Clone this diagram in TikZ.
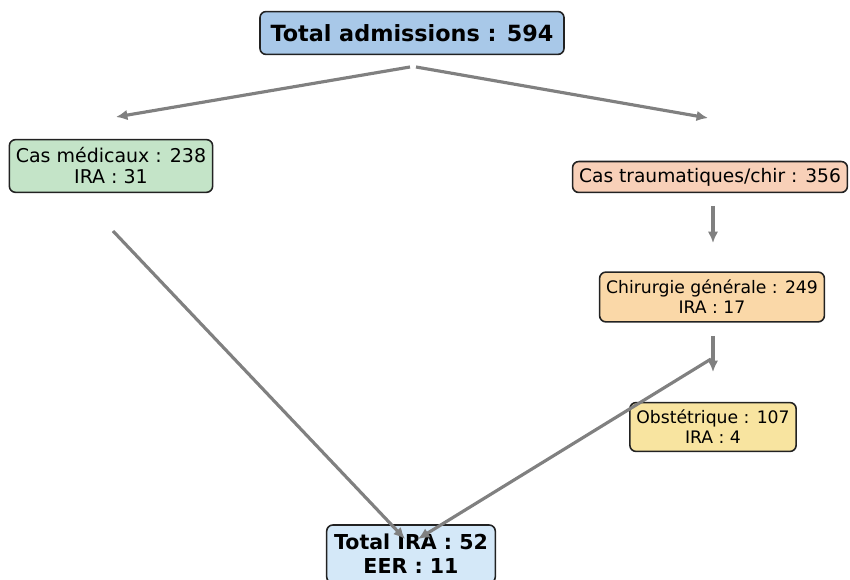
\documentclass[tikz,border=0pt]{standalone}
\usepackage{fontspec}
\setmainfont{DejaVu Sans}
\usetikzlibrary{arrows.meta}

\definecolor{topcolor}{HTML}{A8C8E8}
\definecolor{medcolor}{HTML}{C4E4C8}
\definecolor{traumacolor}{HTML}{F8D0B8}
\definecolor{chircolor}{HTML}{FAD8A8}
\definecolor{obstcolor}{HTML}{F8E4A0}
\definecolor{totalcolor}{HTML}{D4E8F8}
\definecolor{edgecolor}{HTML}{222222}
\definecolor{flowcolor}{HTML}{808080}

\tikzset{
    box/.style={draw=edgecolor, line width=0.9pt, rounded corners=3.5pt,
        align=center, inner xsep=3.7pt, inner ysep=1pt},
    bigbox/.style={box, font=\bfseries\fontsize{12.7}{14}\selectfont, inner xsep=6pt},
    smallbox/.style={box, font=\fontsize{9.8}{11.4}\selectfont},
    flow/.style={draw=flowcolor, line width=1.8pt, -{Latex[length=6.5pt,width=6pt]}}
}

\begin{document}
\begin{tikzpicture}[x=0.02cm,y=-0.02cm]
    \useasboundingbox (0,0) rectangle (850,580);

    % Draw boxes
    \node[bigbox, fill=topcolor, minimum height=24.4pt] (total) at (412,33) {Total admissions : 594};
    \node[box, fill=medcolor, minimum height=30pt, font=\fontsize{10.8}{12}\selectfont] (med) at (111,166) {Cas médicaux : 238\\IRA : 31};
    \node[box, fill=traumacolor, minimum height=17.6pt, font=\fontsize{10.6}{12}\selectfont] (trauma) at (710,177) {Cas traumatiques/chir : 356};
    \node[smallbox, fill=chircolor, minimum height=28.3pt] (chir) at (712,297) {Chirurgie générale : 249\\IRA : 17};
    \node[smallbox, fill=obstcolor, minimum height=27.8pt] (obst) at (713,427) {Obstétrique : 107\\IRA : 4};
    \node[box, fill=totalcolor, minimum height=33pt, font=\bfseries\fontsize{11.7}{13.7}\selectfont, inner xsep=4.2pt] (ira) at (411,554) {Total IRA : 52\\EER : 11};

    % Arrow ends
    \coordinate (totalL) at (410,67);
    \coordinate (totalR) at (416,67);
    \coordinate (medIn) at (116,117);
    \coordinate (traumaIn) at (708,118);
    \coordinate (traumaOut) at (713,206);
    \coordinate (chirIn) at (713,243);
    \coordinate (medOut) at (113,231);
    \coordinate (iraL) at (405,539);
    \coordinate (chirOut) at (713,336);
    \coordinate (obstIn) at (713,372);
    \coordinate (obstOut) at (711,359);
    \coordinate (iraR) at (418,539);

    % Draw arrows
    \draw[flow] (totalL) -- (medIn);
    \draw[flow] (totalR) -- (traumaIn);
    \draw[flow] (traumaOut) -- (chirIn);
    \draw[flow] (chirOut) -- (obstIn);
    \draw[flow] (medOut) -- (iraL);
    \draw[flow] (obstOut) -- (iraR);
\end{tikzpicture}
\end{document}
